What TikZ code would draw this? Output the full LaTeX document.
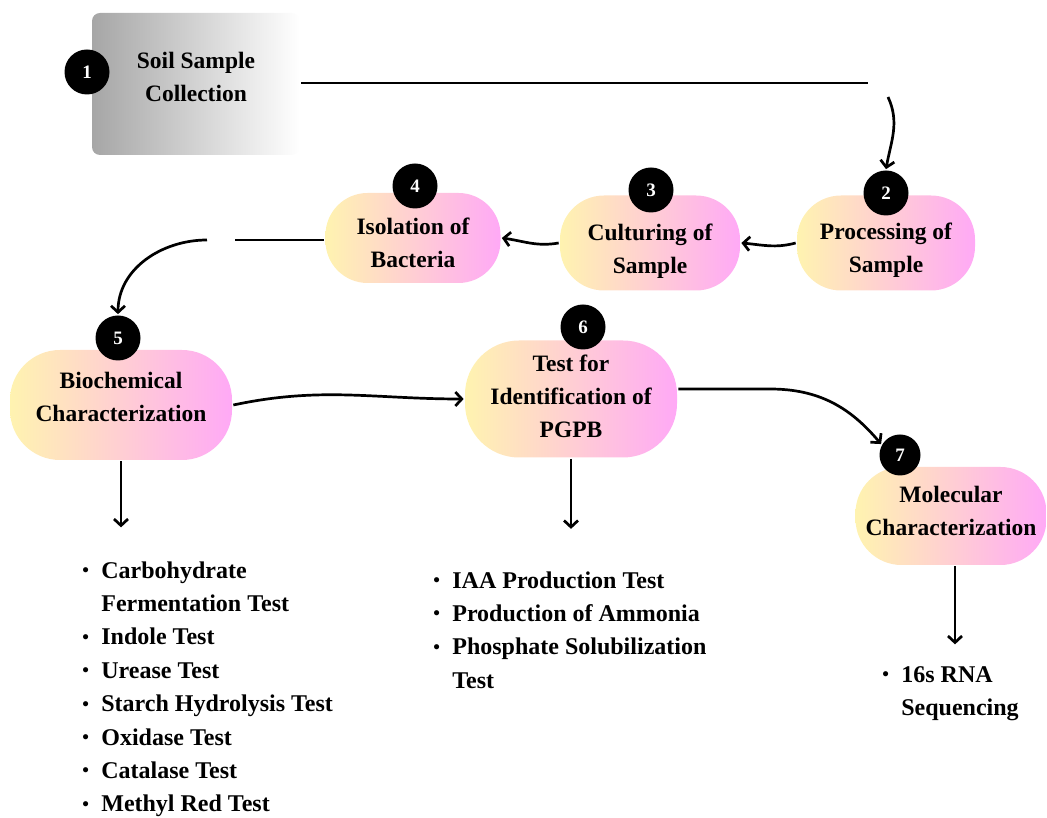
\documentclass[tikz,border=0pt]{standalone}
\usepackage{fontspec}
\setmainfont{Liberation Serif}
\usetikzlibrary{positioning, arrows.meta}

\definecolor{stageyellow}{HTML}{FFF3B0}
\definecolor{stagepink}{HTML}{FFA9F6}
\definecolor{soilgray}{HTML}{A6A6A6}

\newcommand{\bul}{\makebox[19pt][l]{\raisebox{1.5pt}{\fontsize{19}{19}\selectfont\textbullet}}}
\newcommand{\ind}{\hspace*{19pt}}
% struts that move the text of a stage down (\sink) or up (\lift)
\newcommand{\sink}[1]{\rule{0pt}{#1}}
\newcommand{\lift}[1]{\rule[-#1]{0pt}{#1}}

\begin{document}
\begin{tikzpicture}[x=1pt,y=1pt,line width=2.7pt,
    >={Straight Barb[length=6.5pt,width=14pt,line width=2.7pt]},
    stage/.style={left color=stageyellow, right color=stagepink, align=center,
      inner sep=0pt, font=\fontsize{23.5}{33}\selectfont\bfseries},
    soilbox/.style={left color=soilgray, right color=white, rounded corners=8pt,
      align=center, inner sep=0pt, font=\fontsize{23.5}{33}\selectfont\bfseries},
    num/.style={circle, fill=black, text=white, minimum size=45pt, inner sep=0pt,
      font=\fontsize{19}{19}\selectfont\bfseries},
    steplist/.style={anchor=north west, align=left, inner sep=0pt,
      font=\fontsize{24}{33.4}\selectfont\bfseries}]
      \useasboundingbox (0,0) rectangle (1047,817);

      % stages
      \node[soilbox, minimum width=208pt, minimum height=142pt] (soil) at (196,733) {Soil Sample\\Collection\lift{15pt}};
      \node[stage, minimum width=178pt, minimum height=95pt, rounded corners=44pt] (proc) at (886,574) {\sink{32pt}Processing of\\Sample};
      \node[stage, minimum width=180pt, minimum height=95pt, rounded corners=44pt] (cult) at (650,574) {\sink{33pt}Culturing of\\Sample};
      \node[stage, minimum width=175pt, minimum height=90pt, rounded corners=42pt] (iso) at (413,579) {\sink{27pt}Isolation of\\Bacteria};
      \node[stage, minimum width=222pt, minimum height=110pt, rounded corners=50pt] (bio) at (121,412) {Biochemical\\Characterization\lift{17pt}};
      \node[stage, minimum width=212pt, minimum height=117pt, rounded corners=54pt] (test) at (571,418) {Test for\\Identification of\\PGPB\lift{6pt}};
      \node[stage, minimum width=191pt, minimum height=98pt, rounded corners=46pt] (mol) at (951,301) {Molecular\\Characterization\lift{11pt}};

      % step numbers
      \node[num] (n1) at (87,745) {1};
      \node[num] (n2) at (886,624) {2};
      \node[num] (n3) at (651,627) {3};
      \node[num] (n4) at (415,631) {4};
      \node[num] (n5) at (118,479) {5};
      \node[num] (n6) at (583,490) {6};
      \node[num, minimum size=41pt] (n7) at (900,362) {7};

      % lists of tests
      \node[steplist] (bioList) at (81,257) {\bul Carbohydrate\\ \ind Fermentation Test\\ \bul Indole Test\\ \bul Urease Test\\ \bul Starch Hydrolysis Test\\ \bul Oxidase Test\\ \bul Catalase Test\\ \bul Methyl Red Test};
      \node[steplist] (testList) at (432,247) {\bul IAA Production Test\\ \bul Production of Ammonia\\ \bul Phosphate Solubilization\\ \ind Test};
      \node[steplist] (molList) at (881,152) {\bul 16s RNA\\ \ind Sequencing};

      % connectors
      \coordinate (topEnd) at (868,734);
      \coordinate (topBend) at (888,720);
      \coordinate (gapA) at (235,577);
      \coordinate (gapB) at (207,577);
      \coordinate (kneeT) at (770,428);

      \draw (soil.east |- topEnd) -- (topEnd);
      \draw[->] (topBend) to[out=-65,in=80] (n2.north);
      \draw[->] (proc.west) to[out=195,in=-5] (cult.east);
      \draw[->] (cult.west) to[out=190,in=-8] (iso.east);
      \draw (iso.west |- gapA) -- (gapA);
      \draw[->] (gapB) to[out=180,in=90] (n5.north);
      \draw[->] (bio.east) to[out=12,in=180] (test.west);
      \draw[->] (test.east |- kneeT) -- (kneeT) to[out=0,in=130] (n7.150);
      \draw[->] (bio.south) -- ++(0,-66);
      \draw[->] (test.south) -- ++(0,-70);
      \draw[->] (mol.south -| 955,0) -- ++(0,-78);
\end{tikzpicture}
\end{document}
